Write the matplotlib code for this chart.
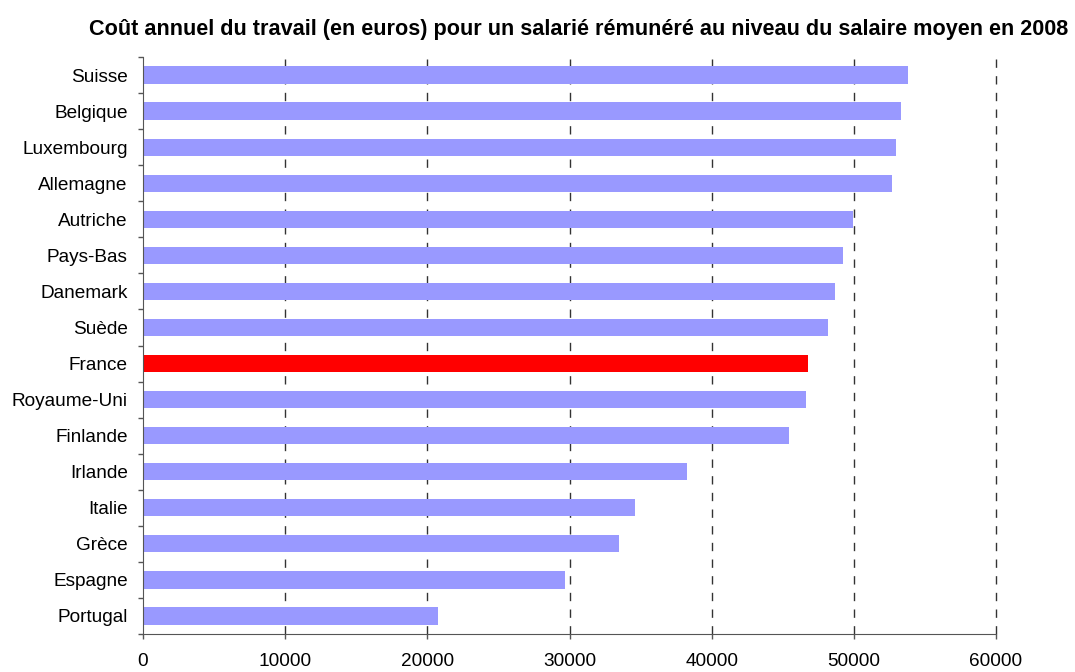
import matplotlib
matplotlib.use("Agg")
import matplotlib.pyplot as plt
import numpy as np

# cout annuel du travail 2008, du haut vers le bas
pays = ["Suisse", "Belgique", "Luxembourg", "Allemagne", "Autriche", "Pays-Bas",
        "Danemark", "Suède", "France", "Royaume-Uni", "Finlande", "Irlande",
        "Italie", "Grèce", "Espagne", "Portugal"]
cout = [53800, 53300, 53000, 52650, 49950, 49250,
        48700, 48200, 46800, 46650, 45450, 38250,
        34600, 33500, 29700, 20750]
xticks = [0, 10000, 20000, 30000, 40000, 50000, 60000]

plt.rcParams['font.family'] = ['Liberation Sans', 'DejaVu Sans']

fig = plt.figure(figsize=(10.75, 6.72), dpi=100)
ax = fig.add_axes([143/1075, 1 - 634/672, (996 - 143)/1075, (634 - 57)/672])

y = np.arange(len(pays))
couleurs = ["#FF0000" if p == "France" else "#9999FF" for p in pays]
ax.barh(y, cout, height=0.48, color=couleurs, zorder=2)

ax.set_xlim(0, 60000)
ax.set_ylim(len(pays) - 0.5, -0.5)
ax.set_xticks(xticks)
ax.set_xticklabels([str(v) for v in xticks], fontsize=13.7)
ax.tick_params(axis='x', length=3.6, width=1, color="#555555", pad=10)

ax.set_yticks(y)
ax.set_yticklabels(pays, fontsize=13.7)
ax.set_yticks(np.arange(len(pays) + 1) - 0.5, minor=True)
ax.tick_params(axis='y', which='major', length=0, pad=11)
ax.tick_params(axis='y', which='minor', length=3.6, width=1, color="#555555", direction='out')

for v in xticks[1:]:
    ax.axvline(v, color="#333333", linestyle=(0, (6, 6)), linewidth=1, zorder=1, clip_on=False)

ax.spines['top'].set_visible(False)
ax.spines['right'].set_visible(False)
ax.spines['left'].set_color("#555555")
ax.spines['bottom'].set_color("#555555")

fig.text(0.538, 1 - 30/672,
         "Coût annuel du travail (en euros) pour un salarié rémunéré au niveau du salaire moyen en 2008",
         ha='center', va='center', fontsize=15.6, fontweight='bold')

fig.savefig("out.png", dpi=100)
